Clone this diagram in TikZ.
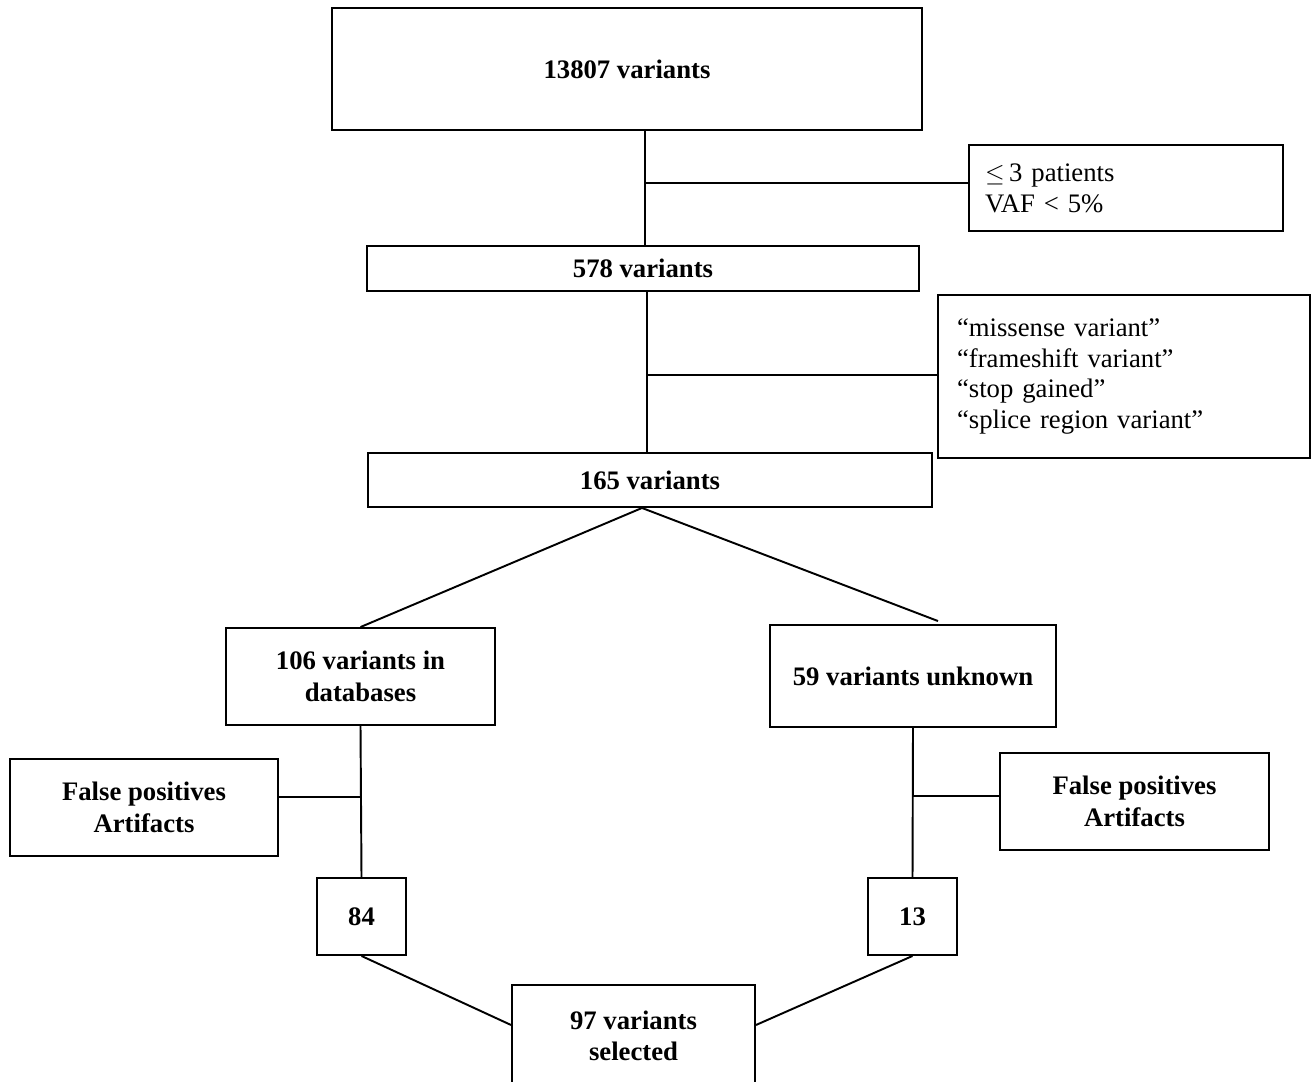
\documentclass[tikz,border=0pt]{standalone}
\usepackage{fontspec}
\setmainfont{Liberation Serif}
\usepackage{tikz}
\usetikzlibrary{positioning,calc}
\tikzset{
  stepbox/.style={draw,line width=1.1pt,fill=white,inner sep=0pt,align=center,font=\fontsize{15.2}{18}\selectfont\bfseries},
  notebox/.style={draw,line width=1.1pt,fill=white,inner ysep=0pt,align=left,font=\fontsize{15.2}{17.6}\selectfont},
  link/.style={line width=1.1pt}
}
\begin{document}
\begin{tikzpicture}[x=0.02cm,y=-0.02cm]
\useasboundingbox (0,0) rectangle (1314,1081);
\clip (0,0) rectangle (1314,1081);
% boxes
\node[stepbox,minimum width=11.8cm,minimum height=2.44cm](top) at (627,69){13807 variants};
\node[notebox,minimum height=1.72cm,inner xsep=0.32cm,text width=5.64cm](crit1) at (1126,188){$\leq$\,3 patients\\VAF < 5\%};
\node[stepbox,minimum width=11.04cm,minimum height=0.9cm](n578) at (643,268.5){578 variants};
\node[notebox,minimum height=3.26cm,inner xsep=0.38cm,text width=6.68cm](crit2) at (1124,376.5){``missense variant''\\``frameshift variant''\\``stop gained''\\``splice region variant''};
\node[stepbox,minimum width=11.28cm,minimum height=1.08cm](n165) at (650,480){165 variants};
\node[stepbox,minimum width=5.38cm,minimum height=1.94cm](db) at (360.5,676.5){106 variants in\\databases};
\node[stepbox,minimum width=5.72cm,minimum height=2.04cm](unk) at (913,676){59 variants unknown};
\node[stepbox,minimum width=5.36cm,minimum height=1.94cm](fpl) at (144,807.5){False positives\\Artifacts};
\node[stepbox,minimum width=5.38cm,minimum height=1.94cm](fpr) at (1134.5,801.5){False positives\\Artifacts};
\node[stepbox,minimum width=1.78cm,minimum height=1.54cm](n84) at (361.5,916.5){84};
\node[stepbox,minimum width=1.78cm,minimum height=1.54cm](n13) at (912.5,916.5){13};
\node[stepbox,minimum width=4.86cm,minimum height=2.04cm](sel) at (633.5,1036){97 variants\\selected};
% junctions
\coordinate(j1) at (645,183);
\coordinate(j2) at (647,375);
\coordinate(j3) at (361,797);
\coordinate(j4) at (912,796);
% connectors
\draw[link](top.south -| j1)--(n578.north -| j1);
\draw[link](j1)--(crit1.west |- j1);
\draw[link](n578.south -| j2)--(n165.north -| j2);
\draw[link](j2)--(crit2.west |- j2);
\draw[link]([xshift=-0.16cm]n165.south)--(db.north);
\draw[link]([xshift=-0.16cm]n165.south)--([xshift=0.5cm,yshift=0.06cm]unk.north);
\draw[link](db.south)--(n84.north);
\draw[link](fpl.east |- j3)--(j3);
\draw[link](unk.south)--(n13.north);
\draw[link](j4)--(fpr.west |- j4);
\draw[link](n84.south)--([yshift=0.22cm]sel.west);
\draw[link](n13.south)--([yshift=0.22cm]sel.east);
\end{tikzpicture}
\end{document}
